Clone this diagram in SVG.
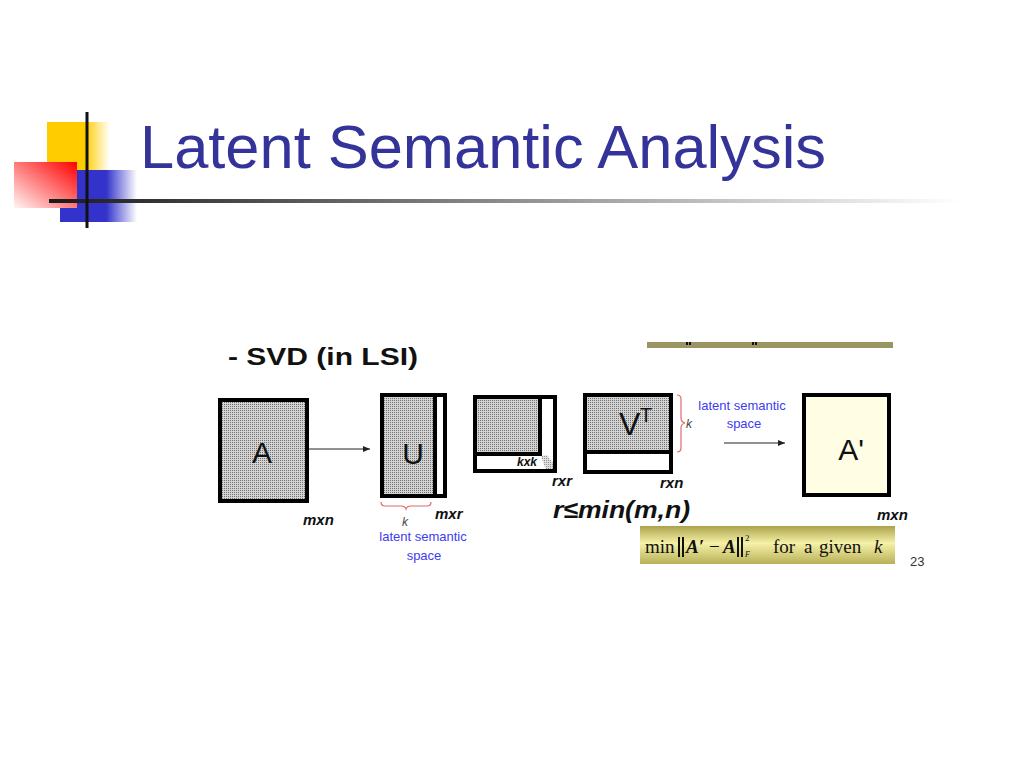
<svg xmlns="http://www.w3.org/2000/svg" width="1024" height="768" viewBox="0 0 1024 768">
<defs>
<style>
.lbl{font-family:"Liberation Sans",Arial,sans-serif;font-weight:bold;font-style:italic;fill:#111}
.big{font-family:"Liberation Sans",Arial,sans-serif;fill:#111}
.blue{font-family:"Liberation Sans",Arial,sans-serif;font-size:13px;fill:#3d3df0;text-anchor:middle}
.kk{font-family:"Liberation Sans",Arial,sans-serif;font-size:12px;font-style:italic;fill:#444}
.box{stroke:#000;stroke-width:4;fill:none}
.sep{stroke:#000;stroke-width:4}
.brace{fill:none;stroke:#e26a6a;stroke-width:1.2}
.conn{stroke:#222;stroke-width:1.2;fill:none}
.fx{font-family:"Liberation Serif","Times New Roman",serif;fill:#111}
.bar{fill:#111}
</style>
<pattern id="dots" width="2" height="2" patternUnits="userSpaceOnUse">
<rect width="2" height="2" fill="#d4d4d4"/>
<rect width="1" height="1" fill="#6e6e6e"/>
</pattern>
<linearGradient id="gY" x1="0" y1="0" x2="1" y2="0">
<stop offset="0" stop-color="#ffcc00"/><stop offset="0.6" stop-color="#ffcc00"/><stop offset="1" stop-color="#ffcc00" stop-opacity="0"/>
</linearGradient>
<linearGradient id="gB" x1="0" y1="0" x2="1" y2="0">
<stop offset="0" stop-color="#3333cc"/><stop offset="0.6" stop-color="#3333cc"/><stop offset="1" stop-color="#3333cc" stop-opacity="0"/>
</linearGradient>
<linearGradient id="gR" x1="1" y1="0" x2="0" y2="1">
<stop offset="0" stop-color="#ff0000"/><stop offset="1" stop-color="#fff4f4"/>
</linearGradient>
<linearGradient id="gL" x1="0" y1="0" x2="1" y2="0">
<stop offset="0" stop-color="#1a1a1a"/><stop offset="1" stop-color="#ffffff"/>
</linearGradient>
<linearGradient id="gF" x1="0" y1="0" x2="0" y2="1">
<stop offset="0" stop-color="#aaa24a"/><stop offset="0.45" stop-color="#f6f1a8"/><stop offset="1" stop-color="#b8b058"/>
</linearGradient>
<marker id="arr" markerWidth="8" markerHeight="8" refX="7" refY="4" orient="auto" markerUnits="userSpaceOnUse">
<path d="M0,1 L7,4 L0,7 Z" fill="#222"/>
</marker>
</defs>
<rect width="1024" height="768" fill="#fff"/>

<g id="logo">
<rect x="47" y="122" width="63" height="48" fill="url(#gY)"/>
<rect x="60" y="170" width="77" height="52" fill="url(#gB)"/>
<rect x="14" y="162" width="63" height="46" fill="url(#gR)"/>
<rect x="49" y="199" width="911" height="4" fill="url(#gL)"/>
<rect x="85.5" y="112" width="3" height="116" fill="#111"/>
</g>

<g id="title">
<text x="140" y="168" font-family="'Liberation Sans',Arial,sans-serif" font-size="62" fill="#333399" textLength="686" lengthAdjust="spacingAndGlyphs">Latent Semantic Analysis</text>
</g>

<g id="subtitle">
<text x="228" y="365" font-family="'Liberation Sans',Arial,sans-serif" font-size="24" font-weight="bold" fill="#111" textLength="190" lengthAdjust="spacingAndGlyphs">- SVD (in LSI)</text>
</g>

<g id="topbar">
<rect x="647" y="342" width="246" height="6" fill="#9a9462"/>
<rect x="686" y="342" width="2" height="3" fill="#111"/><rect x="689" y="342" width="2" height="3" fill="#111"/>
<rect x="752" y="342" width="2" height="3" fill="#111"/><rect x="755" y="342" width="2" height="3" fill="#111"/>
</g>

<g id="node-A">
<rect x="220" y="400" width="87" height="101" fill="url(#dots)"/>
<rect x="220" y="400" width="87" height="101" class="box"/>
<text x="262" y="463" class="big" font-size="30" text-anchor="middle">A</text>
<text x="303" y="525" class="lbl" font-size="15">mxn</text>
</g>

<g id="node-U">
<rect x="382" y="395" width="52" height="101" fill="url(#dots)"/>
<rect x="434" y="395" width="12" height="101" fill="#fff"/>
<line x1="435" y1="395" x2="435" y2="496" class="sep"/>
<rect x="382" y="395" width="63" height="101" class="box"/>
<text x="413" y="464" class="big" font-size="30" text-anchor="middle">U</text>
<path class="brace" d="M381,502 q0,4 4,4 h16 q4,0 5,3 q1,-3 5,-3 h16 q4,0 4,-4"/>
<text x="402" y="526" class="kk">k</text>
<text x="435" y="519" class="lbl" font-size="15">mxr</text>
<text x="423" y="541" class="blue">latent semantic</text>
<text x="424" y="560" class="blue">space</text>
</g>

<g id="node-S">
<rect x="475" y="397" width="65" height="56" fill="url(#dots)"/>
<line x1="540" y1="395" x2="540" y2="456" class="sep"/>
<line x1="473" y1="454" x2="542" y2="454" class="sep"/>
<polygon points="541,456 547,455 557,468 553,473 546,470" fill="url(#dots)" opacity="0.75"/>
<rect x="475" y="397" width="80" height="74" class="box"/>
<text x="517" y="466" class="lbl" font-size="12">kxk</text>
<text x="552" y="486" class="lbl" font-size="15">rxr</text>
</g>

<g id="node-VT">
<rect x="585" y="395" width="86" height="56" fill="url(#dots)"/>
<line x1="583" y1="452" x2="673" y2="452" class="sep"/>
<rect x="585" y="395" width="86" height="77" class="box"/>
<text x="619" y="435" class="big" font-size="32">V</text>
<text x="640" y="422" class="big" font-size="20">T</text>
<path class="brace" d="M677,395 q4,0 4,4 v19 q0,4 4,5 q-4,1 -4,5 v20 q0,4 -4,4"/>
<text x="686" y="428" class="kk">k</text>
<text x="660" y="488" class="lbl" font-size="15">rxn</text>
<text x="742" y="410" class="blue">latent semantic</text>
<text x="744" y="428" class="blue">space</text>
</g>

<g id="node-Aprime">
<rect x="804" y="395" width="85" height="100" fill="#fffde3"/>
<rect x="804" y="395" width="85" height="100" class="box"/>
<text x="851" y="460" class="big" font-size="30" text-anchor="middle">A'</text>
<text x="877" y="520" class="lbl" font-size="15">mxn</text>
</g>

<g id="connectors">
<line x1="309" y1="449" x2="370" y2="449" class="conn" marker-end="url(#arr)"/>
<line x1="724" y1="443" x2="785" y2="443" class="conn" marker-end="url(#arr)"/>
</g>

<g id="condition">
<text x="553" y="518" class="lbl" font-size="24" textLength="137" lengthAdjust="spacingAndGlyphs">r≤min(m,n)</text>
</g>

<g id="formula">
<rect x="640" y="526" width="255" height="38" fill="url(#gF)"/>
<text x="645" y="553" class="fx" font-size="19">min</text>
<rect x="678" y="537" width="2" height="20" class="bar"/>
<rect x="682" y="537" width="2" height="20" class="bar"/>
<text x="686" y="553" class="fx" font-size="19" font-weight="bold" font-style="italic">A′</text>
<text x="709" y="553" class="fx" font-size="19">−</text>
<text x="723" y="553" class="fx" font-size="19" font-weight="bold" font-style="italic">A</text>
<rect x="737" y="537" width="2" height="20" class="bar"/>
<rect x="741" y="537" width="2" height="20" class="bar"/>
<text x="745" y="541" class="fx" font-size="9">2</text>
<text x="745" y="557" class="fx" font-size="8" font-style="italic">F</text>
<text x="773" y="553" class="fx" font-size="19">for</text>
<text x="804" y="553" class="fx" font-size="19">a</text>
<text x="819" y="553" class="fx" font-size="19">given</text>
<text x="874" y="553" class="fx" font-size="19" font-style="italic">k</text>
</g>

<text x="910" y="566" font-family="'Liberation Sans',Arial,sans-serif" font-size="13" fill="#333">23</text>
</svg>
